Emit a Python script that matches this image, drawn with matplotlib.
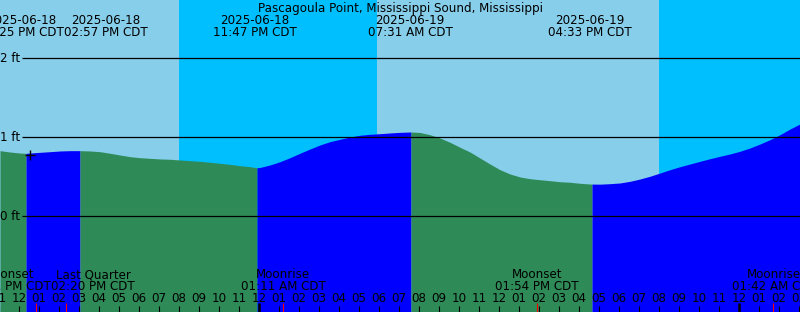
import matplotlib
matplotlib.use('Agg')
import matplotlib.pyplot as plt
import numpy as np

plt.rcParams['font.family'] = 'DejaVu Sans'
plt.rcParams['font.size'] = 8.6

# Tide level (ft) vs hours from midnight 2025-06-19 CDT, read every half hour
hours = [-12.95, -12.45, -11.95, -11.65, -11.45, -10.95, -10.45, -9.95, -9.45, -8.95,
         -8.45, -7.95, -7.45, -6.95, -6.45, -5.95, -5.45, -4.95, -4.45, -3.95,
         -3.45, -2.95, -2.45, -1.95, -1.45, -0.95, -0.45, -0.1, 0.05, 0.55,
         1.05, 1.55, 2.05, 2.55, 3.05, 3.55, 4.05, 4.55, 5.05, 5.55,
         6.05, 6.55, 7.05, 7.55, 7.6, 8.05, 8.55, 9.05, 9.55, 10.05,
         10.55, 11.05, 11.55, 12.05, 12.55, 13.05, 13.55, 14.05, 14.55, 15.05,
         15.55, 16.05, 16.55, 16.65, 17.05, 17.55, 18.05, 18.55, 19.05, 19.55,
         20.05, 20.55, 21.05, 21.55, 22.05, 22.55, 23.05, 23.55, 24.05, 24.55,
         25.05, 25.55, 26.05, 26.55, 27.05]
levels = [0.827, 0.810, 0.797, 0.793, 0.797, 0.806, 0.814, 0.823, 0.827, 0.827,
          0.823, 0.814, 0.794, 0.772, 0.751, 0.738, 0.730, 0.722, 0.718, 0.709,
          0.700, 0.692, 0.680, 0.667, 0.654, 0.637, 0.624, 0.611, 0.614, 0.646,
          0.687, 0.738, 0.794, 0.848, 0.899, 0.941, 0.971, 1.000, 1.022, 1.034,
          1.042, 1.051, 1.059, 1.063, 1.063, 1.057, 1.029, 0.987, 0.933, 0.870,
          0.810, 0.734, 0.658, 0.586, 0.532, 0.494, 0.472, 0.459, 0.447, 0.434,
          0.427, 0.414, 0.405, 0.404, 0.403, 0.409, 0.418, 0.439, 0.468, 0.503,
          0.544, 0.586, 0.624, 0.658, 0.692, 0.725, 0.756, 0.785, 0.819, 0.861,
          0.911, 0.966, 1.029, 1.101, 1.165]

# where the fill switches between ebb and flood
turn_hours = [-12.95, -11.65, -8.95, -0.1, 7.6, 16.65, 27.05]
rising = [False, True, False, True, False, True]

# day / night
sun_hours = [-12.95, -4.0, 5.9, 20.0, 27.05]
is_day = [True, False, True, False]

# tide event labels along the top
tide_label_hours = [-11.85, -7.65, -0.2, 7.55, 16.55]
tide_dates = ['2025-06-18', '2025-06-18', '2025-06-18', '2025-06-19', '2025-06-19']
tide_times = ['12:25 PM CDT', '02:57 PM CDT', '11:47 PM CDT', '07:31 AM CDT', '04:33 PM CDT']

# moon events along the bottom
moon_hours = [-11.15, -9.667, 1.183, 13.9, 25.7]
moon_label_hours = [-12.5, -8.3, 1.2, 13.9, 25.75]
moon_names = ['Moonset', 'Last Quarter', 'Moonrise', 'Moonset', 'Moonrise']
moon_times = ['12:51 PM CDT', '02:20 PM CDT', '01:11 AM CDT', '01:54 PM CDT', '01:42 AM CDT']

ft_levels = [0, 1, 2]
midnights = [0, 24]
now_hour, now_level = -11.45, 0.772

title = 'Pascagoula Point, Mississippi Sound, Mississippi'

H = 312.0
def yp(p):
    # pixel row from top -> axes fraction
    return 1 - p / H

fig = plt.figure(figsize=(8, 3.12), dpi=100)
ax = fig.add_axes([0, 0, 1, 1])
x0, x1 = -12.95, 27.05
ax.set_xlim(x0, x1)
ax.set_ylim(-1.2152, 2.7342)
ax.axis('off')
xt = ax.get_xaxis_transform()

for a, b, d in zip(sun_hours[:-1], sun_hours[1:], is_day):
    ax.axvspan(a, b, color='#87CEEB' if d else '#00BFFF', lw=0, zorder=0)

hrs = np.array(hours)
lev = np.array(levels)
for a, b, r in zip(turn_hours[:-1], turn_hours[1:], rising):
    m = (hrs >= a - 1e-9) & (hrs <= b + 1e-9)
    ax.fill_between(hrs[m], lev[m], -2, color='#0000FF' if r else '#2E8B57',
                    lw=0, zorder=1)

# now marker
ax.plot([now_hour], [now_level], marker='+', color='black', ms=7, mew=1.0, zorder=5)

# level lines and labels
ax.hlines(ft_levels, -11.85, x1, color='black', lw=0.9, zorder=3)
for f in ft_levels:
    ax.text(-11.95, f - 4 / 79, f'{f} ft', ha='right', va='baseline', zorder=4)

# title and tide events
ax.text(0.5, yp(12), title, transform=ax.transAxes, ha='center', va='baseline')
for h, d, t in zip(tide_label_hours, tide_dates, tide_times):
    ax.text(h, yp(24), d, transform=xt, ha='center', va='baseline')
    ax.text(h, yp(36), t, transform=xt, ha='center', va='baseline')

# moon events
for h, n, t in zip(moon_label_hours, moon_names, moon_times):
    ax.text(h, yp(278.5), n, transform=xt, ha='center', va='baseline', zorder=4)
    ax.text(h, yp(290.3), t, transform=xt, ha='center', va='baseline', zorder=4)

# hour ticks and labels
tick_hours = np.arange(-13, 28)
ax.vlines(tick_hours, 0, yp(306), transform=xt, color='black', lw=0.8, zorder=3)
ax.vlines(midnights, 0, yp(303), transform=xt, color='black', lw=1.8, zorder=3)
ax.vlines(moon_hours, 0, yp(303), transform=xt, color='red', lw=0.8, zorder=3)
for h in tick_hours:
    lab = (h % 12) or 12
    ax.text(h, yp(302), f'{lab:02d}', transform=xt, ha='center', va='baseline', zorder=4)

fig.savefig('out.png', dpi=100)
